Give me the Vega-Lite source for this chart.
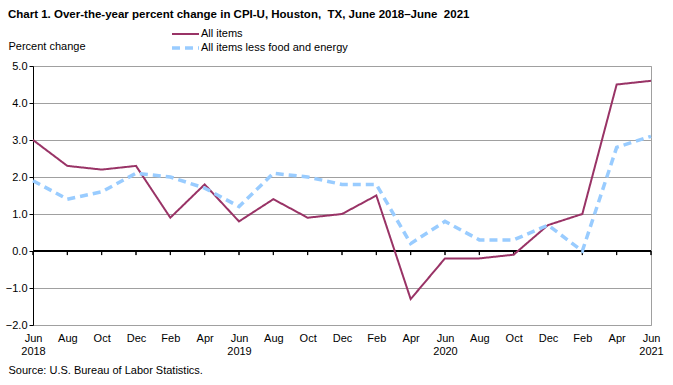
{
  "$schema": "https://vega.github.io/schema/vega-lite/v6.json",
  "width": 618,
  "height": 259,
  "autosize": {"type": "none"},
  "padding": {"left": 33, "top": 66, "right": 22, "bottom": 60},
  "background": "white",
  "config": {
    "font": "Liberation Sans, Arial, sans-serif",
    "view": {"stroke": "#a0a0a0", "strokeWidth": 1},
    "scale": {"pointPadding": 0}
  },
  "title": {
    "text": "Chart 1. Over-the-year percent change in CPI-U, Houston,\u00a0 TX, June 2018–June\u00a0 2021",
    "anchor": "start",
    "frame": "group",
    "dx": -25,
    "dy": 3,
    "offset": 10,
    "fontSize": 11.5,
    "fontWeight": "bold",
    "color": "black"
  },
  "data": {
    "values": [
      {"date": "Jun 2018", "series": "All items", "value": 3.0},
      {"date": "Aug 2018", "series": "All items", "value": 2.3},
      {"date": "Oct 2018", "series": "All items", "value": 2.2},
      {"date": "Dec 2018", "series": "All items", "value": 2.3},
      {"date": "Feb 2019", "series": "All items", "value": 0.9},
      {"date": "Apr 2019", "series": "All items", "value": 1.8},
      {"date": "Jun 2019", "series": "All items", "value": 0.8},
      {"date": "Aug 2019", "series": "All items", "value": 1.4},
      {"date": "Oct 2019", "series": "All items", "value": 0.9},
      {"date": "Dec 2019", "series": "All items", "value": 1.0},
      {"date": "Feb 2020", "series": "All items", "value": 1.5},
      {"date": "Apr 2020", "series": "All items", "value": -1.3},
      {"date": "Jun 2020", "series": "All items", "value": -0.2},
      {"date": "Aug 2020", "series": "All items", "value": -0.2},
      {"date": "Oct 2020", "series": "All items", "value": -0.1},
      {"date": "Dec 2020", "series": "All items", "value": 0.7},
      {"date": "Feb 2021", "series": "All items", "value": 1.0},
      {"date": "Apr 2021", "series": "All items", "value": 4.5},
      {"date": "Jun 2021", "series": "All items", "value": 4.6},
      {"date": "Jun 2018", "series": "All items less food and energy", "value": 1.9},
      {"date": "Aug 2018", "series": "All items less food and energy", "value": 1.4},
      {"date": "Oct 2018", "series": "All items less food and energy", "value": 1.6},
      {"date": "Dec 2018", "series": "All items less food and energy", "value": 2.1},
      {"date": "Feb 2019", "series": "All items less food and energy", "value": 2.0},
      {"date": "Apr 2019", "series": "All items less food and energy", "value": 1.7},
      {"date": "Jun 2019", "series": "All items less food and energy", "value": 1.2},
      {"date": "Aug 2019", "series": "All items less food and energy", "value": 2.1},
      {"date": "Oct 2019", "series": "All items less food and energy", "value": 2.0},
      {"date": "Dec 2019", "series": "All items less food and energy", "value": 1.8},
      {"date": "Feb 2020", "series": "All items less food and energy", "value": 1.8},
      {"date": "Apr 2020", "series": "All items less food and energy", "value": 0.2},
      {"date": "Jun 2020", "series": "All items less food and energy", "value": 0.8},
      {"date": "Aug 2020", "series": "All items less food and energy", "value": 0.3},
      {"date": "Oct 2020", "series": "All items less food and energy", "value": 0.3},
      {"date": "Dec 2020", "series": "All items less food and energy", "value": 0.7},
      {"date": "Feb 2021", "series": "All items less food and energy", "value": 0.0},
      {"date": "Apr 2021", "series": "All items less food and energy", "value": 2.8},
      {"date": "Jun 2021", "series": "All items less food and energy", "value": 3.1}
    ]
  },
  "encoding": {
    "x": {
      "field": "date",
      "type": "ordinal",
      "sort": null,
      "scale": {"type": "point", "padding": 0},
      "axis": {
        "domain": false,
        "ticks": false,
        "grid": false,
        "labelAngle": 0,
        "labelFontSize": 11,
        "labelColor": "black",
        "labelPadding": 7,
        "labelLineHeight": 13,
        "labelExpr": "slice(datum.value,0,3)=='Jun' ? split(datum.value,' ') : slice(datum.value,0,3)",
        "title": "Source: U.S. Bureau of Labor Statistics.",
        "titleFontSize": 11,
        "titleFontWeight": "normal",
        "titleColor": "black",
        "titleAnchor": "start",
        "titleAlign": "left",
        "titleX": -25,
        "titleY": 45,
        "titleBaseline": "middle"
      }
    },
    "y": {
      "field": "value",
      "type": "quantitative",
      "scale": {"domain": [-2, 5], "nice": false, "zero": false},
      "axis": {
        "values": [-2, -1, 0, 1, 2, 3, 4, 5],
        "format": ".1f",
        "domainColor": "black",
        "tickColor": "black",
        "tickSize": 4,
        "labelFontSize": 11,
        "labelColor": "black",
        "labelPadding": 2,
        "labelOverlap": false,
        "gridColor": "#a0a0a0",
        "gridOpacity": 1,
        "title": "Percent change",
        "titleAngle": 0,
        "titleFontSize": 11,
        "titleFontWeight": "normal",
        "titleColor": "black",
        "titleAlign": "left",
        "titleBaseline": "middle",
        "titleX": -25,
        "titleY": -20
      }
    }
  },
  "layer": [
    {
      "mark": {"type": "rule", "color": "black", "strokeWidth": 1},
      "encoding": {
        "y": {"datum": 0, "type": "quantitative"},
        "y2": {"datum": -0.11}
      }
    },
    {
      "mark": {"type": "rule", "color": "black", "strokeWidth": 1},
      "encoding": {
        "x": null,
        "y": {"datum": 0, "type": "quantitative"}
      }
    },
    {
      "mark": {"type": "line", "strokeCap": "butt"},
      "encoding": {
        "color": {
          "field": "series",
          "type": "nominal",
          "scale": {"domain": ["All items", "All items less food and energy"], "range": ["#993366", "#99ccff"]},
          "legend": {
            "title": null,
            "orient": "none",
            "legendX": 137,
            "legendY": -39,
            "direction": "vertical",
            "symbolType": "stroke",
            "symbolSize": 730,
            "symbolStrokeWidth": 3,
            "labelFontSize": 11,
            "labelColor": "black",
            "clipHeight": 14,
            "rowPadding": 0,
            "labelOffset": 0
          }
        },
        "strokeDash": {
          "field": "series",
          "type": "nominal",
          "scale": {"domain": ["All items", "All items less food and energy"], "range": [[1, 0], [8, 5]]}
        },
        "strokeWidth": {
          "field": "series",
          "type": "nominal",
          "scale": {"domain": ["All items", "All items less food and energy"], "range": [2, 3.5]},
          "legend": null
        }
      }
    }
  ]
}
